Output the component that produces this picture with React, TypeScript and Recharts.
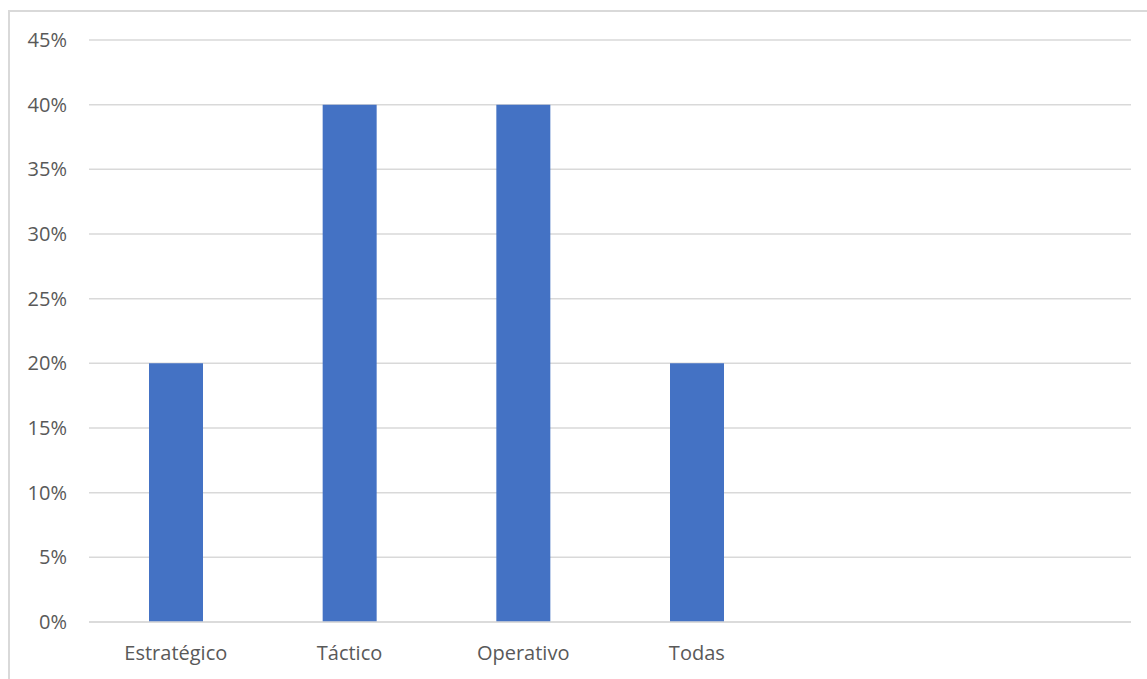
import { BarChart, Bar, XAxis, YAxis, CartesianGrid } from "recharts";

const categories = ["Estratégico", "Táctico", "Operativo", "Todas", "", ""];
const shares = [0.2, 0.4, 0.4, 0.2, null, null];
const yTicks = [0, 0.05, 0.1, 0.15, 0.2, 0.25, 0.3, 0.35, 0.4, 0.45];

const data = categories.map((name, i) => ({ key: `c${i}`, name, value: shares[i] }));

const FONT = "'Open Sans', 'Noto Sans', sans-serif";
const GRID = "#d9d9d9";
const TEXT = "#595959";

export default function App() {
  return (
    <div style={{ position: "absolute", left: 0, top: 0, width: 1147, height: 679, overflow: "hidden", background: "#fff" }}>
      <div
        style={{
          position: "absolute",
          left: 8,
          top: 10,
          width: 1200,
          height: 720,
          borderLeft: `2px solid ${GRID}`,
          borderTop: `2px solid ${GRID}`,
        }}
      />
      <div style={{ position: "absolute", left: 0, top: 0 }}>
        <BarChart
          width={1147}
          height={679}
          data={data}
          margin={{ top: 40, right: 16, left: 29, bottom: 27 }}
        >
          <CartesianGrid vertical={false} stroke={GRID} strokeWidth={1.5} />
          <XAxis
            dataKey="key"
            tickFormatter={(_, i) => categories[i]}
            axisLine={{ stroke: GRID, strokeWidth: 1.5 }}
            tickLine={false}
            tickSize={0}
            tickMargin={24}
            height={30}
            interval={0}
            tick={{ fontSize: 20, fill: TEXT, fontFamily: FONT }}
          />
          <YAxis
            domain={[0, 0.45]}
            ticks={yTicks}
            tickFormatter={(v: number) => `${Math.round(v * 100)}%`}
            axisLine={false}
            tickLine={false}
            tickSize={0}
            tickMargin={22}
            width={60}
            tick={{ fontSize: 20, fill: TEXT, fontFamily: FONT }}
          />
          <Bar dataKey="value" fill="#4472C4" barSize={54} isAnimationActive={false} />
        </BarChart>
      </div>
    </div>
  );
}
